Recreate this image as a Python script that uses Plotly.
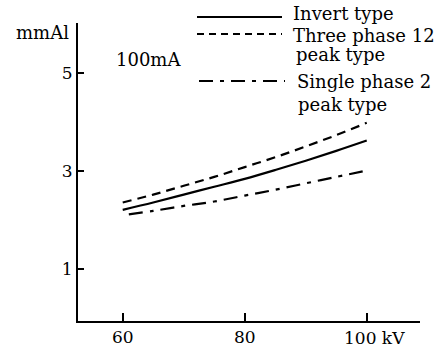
import plotly.graph_objects as go

# Data
kv = [60, 65, 70, 75, 80, 85, 90, 95, 100]
invert_type = [2.21, 2.36, 2.52, 2.68, 2.84, 3.02, 3.21, 3.41, 3.62]
three_phase_12 = [2.36, 2.52, 2.70, 2.88, 3.08, 3.28, 3.50, 3.73, 3.98]
single_kv = [61, 65, 70, 75, 80, 85, 90, 95, 100]
single_phase_2 = [2.12, 2.19, 2.29, 2.38, 2.50, 2.62, 2.75, 2.88, 3.01]

x_ticks = [60, 80, 100]
x_tick_labels = ["60", "80", "100"]
x_unit = "kV"
y_ticks = [1, 3, 5]
y_tick_labels = ["1", "3", "5"]

FONT = "DejaVu Serif"
W, H = 440, 353
L, R, T, B = 78, 20, 23, 32
PW, PH = W - L - R, H - T - B


def px(x):
    return (x - L) / PW


def py(y):
    return (H - B - y) / PH


fig = go.Figure()
fig.add_trace(go.Scatter(x=kv, y=invert_type, mode="lines", name="Invert type",
                         line=dict(color="black", width=2.2, shape="spline")))
fig.add_trace(go.Scatter(x=kv, y=three_phase_12, mode="lines", name="Three phase 12 peak type",
                         line=dict(color="black", width=2.2, dash="9px,6px", shape="spline")))
fig.add_trace(go.Scatter(x=single_kv, y=single_phase_2, mode="lines", name="Single phase 2 peak type",
                         line=dict(color="black", width=2.2, dash="14px,7px,4px,7px", shape="spline")))

# Legend drawn manually
legend = [
    (197, 282, 17, "solid"),
    (197, 282, 34, "7px,5px"),
    (199, 285, 81, "14px,7px,4px,7px"),
]
for x0, x1, yy, dash in legend:
    fig.add_shape(type="line", xref="paper", yref="paper",
                  x0=px(x0), x1=px(x1), y0=py(yy), y1=py(yy),
                  line=dict(color="black", width=2.2, dash=dash))

texts = [
    ("Invert type", 291, 14),
    ("Three phase 12", 291, 35),
    ("peak type", 294, 55),
    ("Single phase 2", 295, 81),
    ("peak type", 296, 104),
    ("100mA", 114, 59),
]
for t, x, y in texts:
    fig.add_annotation(text=t, xref="paper", yref="paper", x=px(x), y=py(y),
                       xanchor="left", yanchor="middle", showarrow=False,
                       font=dict(family=FONT, size=18, color="black"))
fig.add_annotation(text="mmAl", xref="paper", yref="paper", x=px(71), y=py(32),
                   xanchor="right", yanchor="middle", showarrow=False,
                   font=dict(family=FONT, size=18, color="black"))
# last x tick label with unit, offset as in the reference
fig.add_annotation(text=x_tick_labels[-1] + " " + x_unit, xref="x", yref="paper",
                   x=x_ticks[-1], y=py(338), xanchor="left", yanchor="middle",
                   xshift=-25, showarrow=False,
                   font=dict(family=FONT, size=17, color="black"))

fig.update_xaxes(range=[52.67, 108.73], tickvals=x_ticks,
                 ticktext=x_tick_labels[:-1] + [""],
                 showline=True, linecolor="black", linewidth=2, showgrid=False,
                 zeroline=False, ticks="inside", ticklen=8, tickwidth=2, tickcolor="black",
                 automargin=False,
                 tickfont=dict(family=FONT, size=17, color="black"))
fig.update_yaxes(range=[-0.05, 6.01], tickvals=y_ticks, ticktext=y_tick_labels,
                 showline=True, linecolor="black", linewidth=2, showgrid=False,
                 zeroline=False, ticks="inside", ticklen=6, tickwidth=2, tickcolor="black",
                 automargin=False,
                 tickfont=dict(family=FONT, size=17, color="black"))

fig.update_layout(width=W, height=H, margin=dict(l=L, r=R, t=T, b=B),
                  plot_bgcolor="white", paper_bgcolor="white", showlegend=False)

fig.write_html("out.html", config={"displayModeBar": False},
               post_script="document.body.style.margin='0';document.body.style.overflow='hidden';")
